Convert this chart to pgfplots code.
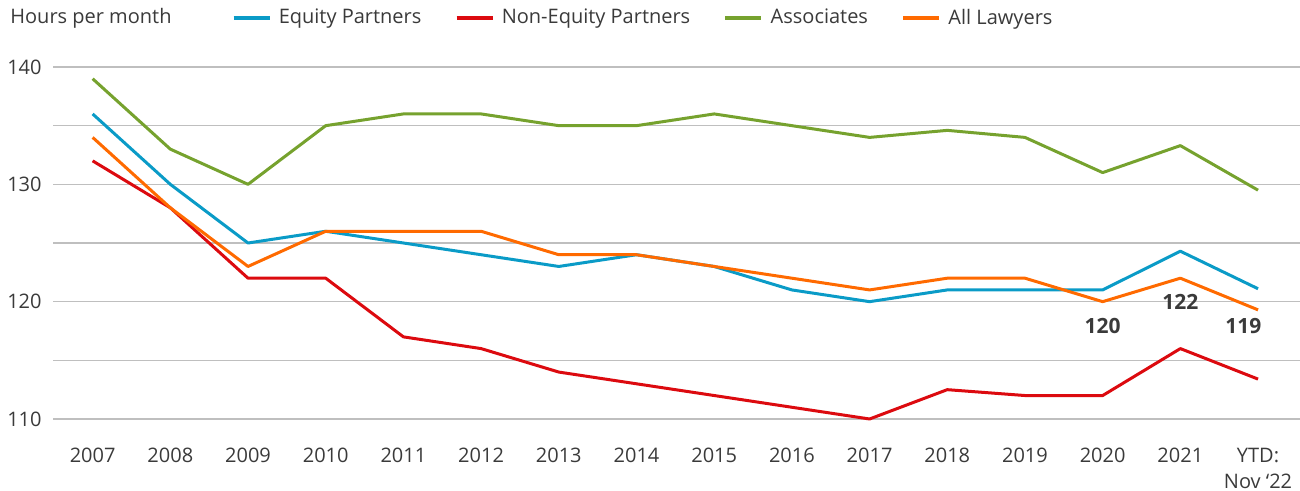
\documentclass[border=0pt]{standalone}
\usepackage{pgfplots}
\pgfplotsset{compat=1.18}
\usepackage{fontspec}
\setmainfont{Open Sans}
\definecolor{cEq}{HTML}{0A9BC7}
\definecolor{cNe}{HTML}{DC0A0F}
\definecolor{cAs}{HTML}{76A22E}
\definecolor{cAl}{HTML}{FF6A00}
\definecolor{txt}{HTML}{3A3A3A}
\definecolor{grid}{HTML}{DCDCDC}
\pgfplotstableread{
x eq ne as al
0 136 132 139 134
1 130 128 133 128
2 125 122 130 123
3 126 122 135 126
4 125 117 136 126
5 124 116 136 126
6 123 114 135 124
7 124 113 135 124
8 123 112 136 123
9 121 111 135 122
10 120 110 134 121
11 121 112.5 134.6 122
12 121 112 134 122
13 121 112 131 120
14 124.3 116 133.3 122
15 121.1 113.4 129.5 119.3
}\data
\begin{document}
\begin{tikzpicture}[font=\fontsize{10pt}{13pt}\selectfont, text=txt]
\path[use as bounding box] (-26.5pt,-36pt) rectangle (623.5pt,209.5pt);
\begin{axis}[
  at={(0,0)}, anchor=south west,
  scale only axis, width=623.5pt, height=176pt,
  xmin=-0.51, xmax=15.54, ymin=110, ymax=140,
  axis line style={draw=none},
  major tick length=0pt,
  xtick={0,...,15},
  xticklabels={2007,2008,2009,2010,2011,2012,2013,2014,2015,2016,2017,2018,2019,2020,2021,{YTD:\\Nov ‘22}},
  xticklabel style={align=center, anchor=north, inner sep=0pt, yshift=-14.5pt, text=txt},
  ytick={110,115,...,140},
  yticklabels={110,,120,,130,,140},
  yticklabel style={anchor=east, inner sep=0pt, xshift=-5.5pt, text=txt},
  ymajorgrids, xmajorgrids=false, grid style={grid, line width=0.8pt},
  /pgf/number format/assume math mode=true,
  clip=false,
  legend columns=4,
  legend style={at={(0.1427,1.139)}, anchor=west, draw=none, fill=none, inner sep=0pt,
    nodes={inner sep=0pt, text=txt},
    /tikz/every odd column/.append style={column sep=3.5pt},
    /tikz/every even column/.append style={column sep=16.5pt}},
  legend image code/.code={\draw[#1, line width=2.2pt] (0pt,0pt) -- (18pt,0pt);},
  every axis plot/.append style={line width=1.5pt, line join=round},
]
\addplot[cEq] table[x=x,y=eq]{\data};
\addlegendentry{Equity Partners}
\addplot[cNe] table[x=x,y=ne]{\data};
\addlegendentry{Non-Equity Partners}
\addplot[cAs] table[x=x,y=as]{\data};
\addlegendentry{Associates}
\addplot[cAl] table[x=x,y=al]{\data};
\addlegendentry{All Lawyers}
\node[font=\fontsize{10.5pt}{12pt}\selectfont\bfseries, text=txt] at (axis cs:13,117.95) {120};
\node[font=\fontsize{10.5pt}{12pt}\selectfont\bfseries, text=txt] at (axis cs:14,120.0) {122};
\node[font=\fontsize{10.5pt}{12pt}\selectfont\bfseries, text=txt] at (axis cs:14.81,117.95) {119};
\end{axis}
\node[anchor=west, inner sep=0pt, text=txt] at (-21.5pt,200.5pt) {Hours per month};
\end{tikzpicture}
\end{document}
